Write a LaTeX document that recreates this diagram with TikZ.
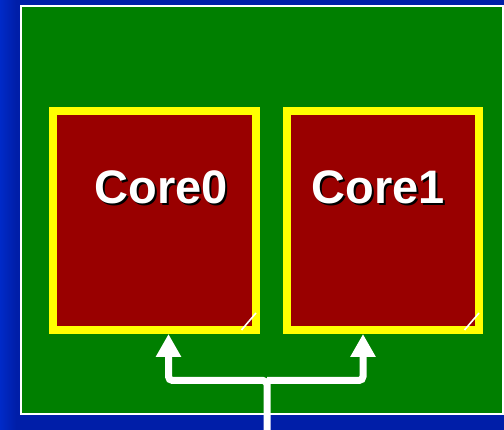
\documentclass[tikz,border=0pt]{standalone}
\usepackage{fontspec}
\setmainfont{Liberation Sans}
\usetikzlibrary{arrows.meta,calc}
\definecolor{slideblue}{RGB}{0,30,168}
\definecolor{slidebluelight}{RGB}{0,42,200}
\definecolor{boardgreen}{RGB}{0,127,0}
\definecolor{corered}{RGB}{153,0,0}
\definecolor{frameyellow}{RGB}{255,255,0}
\tikzset{
  board/.style={draw=white, line width=2pt, fill=boardgreen},
  corebox/.style={draw=frameyellow, line width=8pt, fill=corered,
    minimum height=219pt, inner sep=0pt},
  corelabel/.style={text=white, font=\fontsize{47}{50}\selectfont\bfseries, inner sep=0pt},
  coreshadow/.style={corelabel, text=black},
  feed/.style={draw=white, line width=7pt, rounded corners=4pt,
    -{Triangle[length=23pt,width=24pt]}},
  tick/.style={draw=white, line width=1.6pt}
}
\begin{document}
\begin{tikzpicture}[x=1pt,y=-1pt]
  \useasboundingbox (0,0) rectangle (504,430);
  % slide background with a lighter strip on the left edge
  \fill[slideblue] (0,0) rectangle (504,430);
  \shade[left color=slidebluelight, right color=slideblue] (0,0) rectangle (16,430);
  % chip board
  \draw[board] (21,6) rectangle (503,414.5);
  % the two cores
  \node[corebox, minimum width=203pt] (core0) at (154.5,220.5) {};
  \node[corebox, minimum width=192pt] (core1) at (383,220.5) {};
  \node[coreshadow] (core0shadow) at (163.5,189.5) {Core0};
  \node[corelabel] (core0label) at (161,187) {Core0};
  \node[coreshadow] (core1shadow) at (380.5,189.5) {Core1};
  \node[corelabel] (core1label) at (378,187) {Core1};
  % corner ticks
  \draw[tick] (241.5,330) -- (256,313);
  \draw[tick] (464.5,330) -- (479,313);
  % shared feed into both cores
  \coordinate (feedin) at (267,432);
  \coordinate (split) at (267,380.5);
  \draw[feed] (feedin) -- (split) -| ($(core0.south)+(14,0)$);
  \draw[feed] (split) -| ($(core1.south)+(-20,0)$);
\end{tikzpicture}
\end{document}
